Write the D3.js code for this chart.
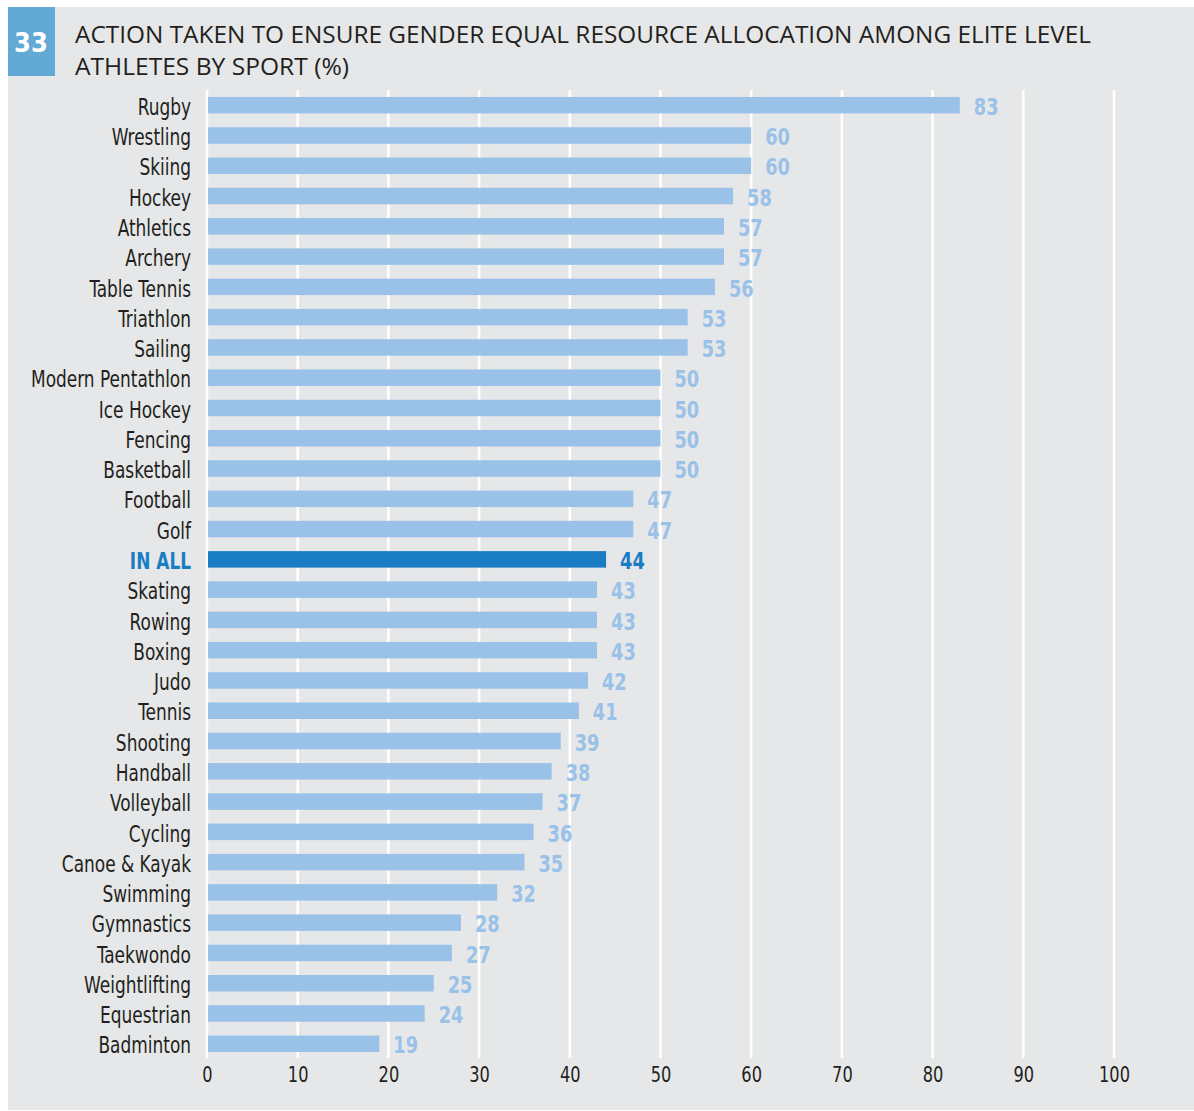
<!DOCTYPE html>
<html>
<head>
<meta charset="utf-8">
<script src="https://cdn.jsdelivr.net/npm/d3@7"></script>
<style>
  body { margin: 0; background: #fff; }
</style>
</head>
<body>
<div id="chart"></div>
<script>
// data
var sports = ["Rugby", "Wrestling", "Skiing", "Hockey", "Athletics", "Archery", "Table Tennis",
  "Triathlon", "Sailing", "Modern Pentathlon", "Ice Hockey", "Fencing", "Basketball", "Football",
  "Golf", "IN ALL", "Skating", "Rowing", "Boxing", "Judo", "Tennis", "Shooting", "Handball",
  "Volleyball", "Cycling", "Canoe & Kayak", "Swimming", "Gymnastics", "Taekwondo",
  "Weightlifting", "Equestrian", "Badminton"];
var values = [83, 60, 60, 58, 57, 57, 56, 53, 53, 50, 50, 50, 50, 47, 47, 44, 43, 43, 43, 42, 41,
  39, 38, 37, 36, 35, 32, 28, 27, 25, 24, 19];
var ticks = [0, 10, 20, 30, 40, 50, 60, 70, 80, 90, 100];
var highlight = "IN ALL";

var W = 1194, H = 1111;
var light = "#9ac2e8", dark = "#1a7dc4";
var narrow = "'Liberation Sans Narrow', 'DejaVu Sans Condensed', sans-serif";

var svg = d3.select("#chart").append("svg")
  .attr("width", W)
  .attr("height", H);

// grey panel
svg.append("rect")
  .attr("x", 8).attr("y", 7)
  .attr("width", W - 8).attr("height", H - 8)
  .attr("fill", "#e6e7e8");

// figure number box
svg.append("rect")
  .attr("x", 8).attr("y", 7)
  .attr("width", 47).attr("height", 69)
  .attr("fill", "#62a9d5");
svg.append("text")
  .attr("x", 31).attr("y", 52)
  .attr("text-anchor", "middle")
  .attr("fill", "#fff")
  .attr("font-family", narrow)
  .attr("font-weight", "bold")
  .attr("font-size", 27)
  .text("33");

var title = svg.append("g")
  .attr("font-family", "'Open Sans', 'Noto Sans', sans-serif")
  .attr("font-size", 23)
  .attr("fill", "#231f20");
title.append("text").attr("x", 75).attr("y", 43)
  .attr("textLength", 1016).attr("lengthAdjust", "spacingAndGlyphs")
  .text("ACTION TAKEN TO ENSURE GENDER EQUAL RESOURCE ALLOCATION AMONG ELITE LEVEL");
title.append("text").attr("x", 75).attr("y", 75)
  .attr("textLength", 274).attr("lengthAdjust", "spacingAndGlyphs")
  .text("ATHLETES BY SPORT (%)");

var x = d3.scaleLinear().domain([0, 100]).range([207, 1114]);
var y = d3.scaleBand().domain(sports).range([90, 1059]).paddingInner(0.455).paddingOuter(0.23);

// gridlines
svg.append("g")
  .selectAll("line")
  .data(ticks)
  .enter().append("line")
  .attr("x1", function(d){ return x(d); })
  .attr("x2", function(d){ return x(d); })
  .attr("y1", 90)
  .attr("y2", 1058)
  .attr("stroke", "#fff")
  .attr("stroke-width", 2.5);

// x axis
var xa = svg.append("g")
  .attr("transform", "translate(0,1058)")
  .call(d3.axisBottom(x).tickValues(ticks).tickSize(0).tickPadding(8));
xa.select(".domain").remove();
xa.selectAll("text")
  .attr("font-size", 22)
  .attr("font-family", narrow)
  .attr("fill", "#231f20")
  .attr("transform", "scale(0.82,1)");

// bars
svg.append("g")
  .selectAll("rect")
  .data(sports)
  .enter().append("rect")
  .attr("x", x(0) + 1)
  .attr("y", function(d){ return y(d); })
  .attr("width", function(d, i){ return x(values[i]) - x(0) - 1; })
  .attr("height", y.bandwidth())
  .attr("fill", function(d){ return d == highlight ? dark : light; });

// category labels
var yl = svg.append("g")
  .attr("transform", "translate(191,0)")
  .call(d3.axisLeft(y).tickSize(0).tickPadding(0));
yl.select(".domain").remove();
yl.selectAll("text")
  .attr("font-size", 23)
  .attr("font-family", narrow)
  .attr("dy", "0.42em")
  .attr("transform", "scale(0.82,1)")
  .attr("fill", function(d){ return d == highlight ? dark : "#231f20"; })
  .attr("font-weight", function(d){ return d == highlight ? "bold" : "normal"; });

// value labels
svg.append("g")
  .selectAll("text")
  .data(sports)
  .enter().append("text")
  .attr("transform", function(d, i){
    return "translate(" + (x(values[i]) + 14) + "," + (y(d) + y.bandwidth() / 2) + ") scale(0.86,1)";
  })
  .attr("dy", "0.42em")
  .attr("font-family", narrow)
  .attr("font-size", 23)
  .attr("font-weight", "bold")
  .attr("fill", function(d){ return d == highlight ? dark : light; })
  .text(function(d, i){ return values[i]; });
</script>
</body>
</html>
